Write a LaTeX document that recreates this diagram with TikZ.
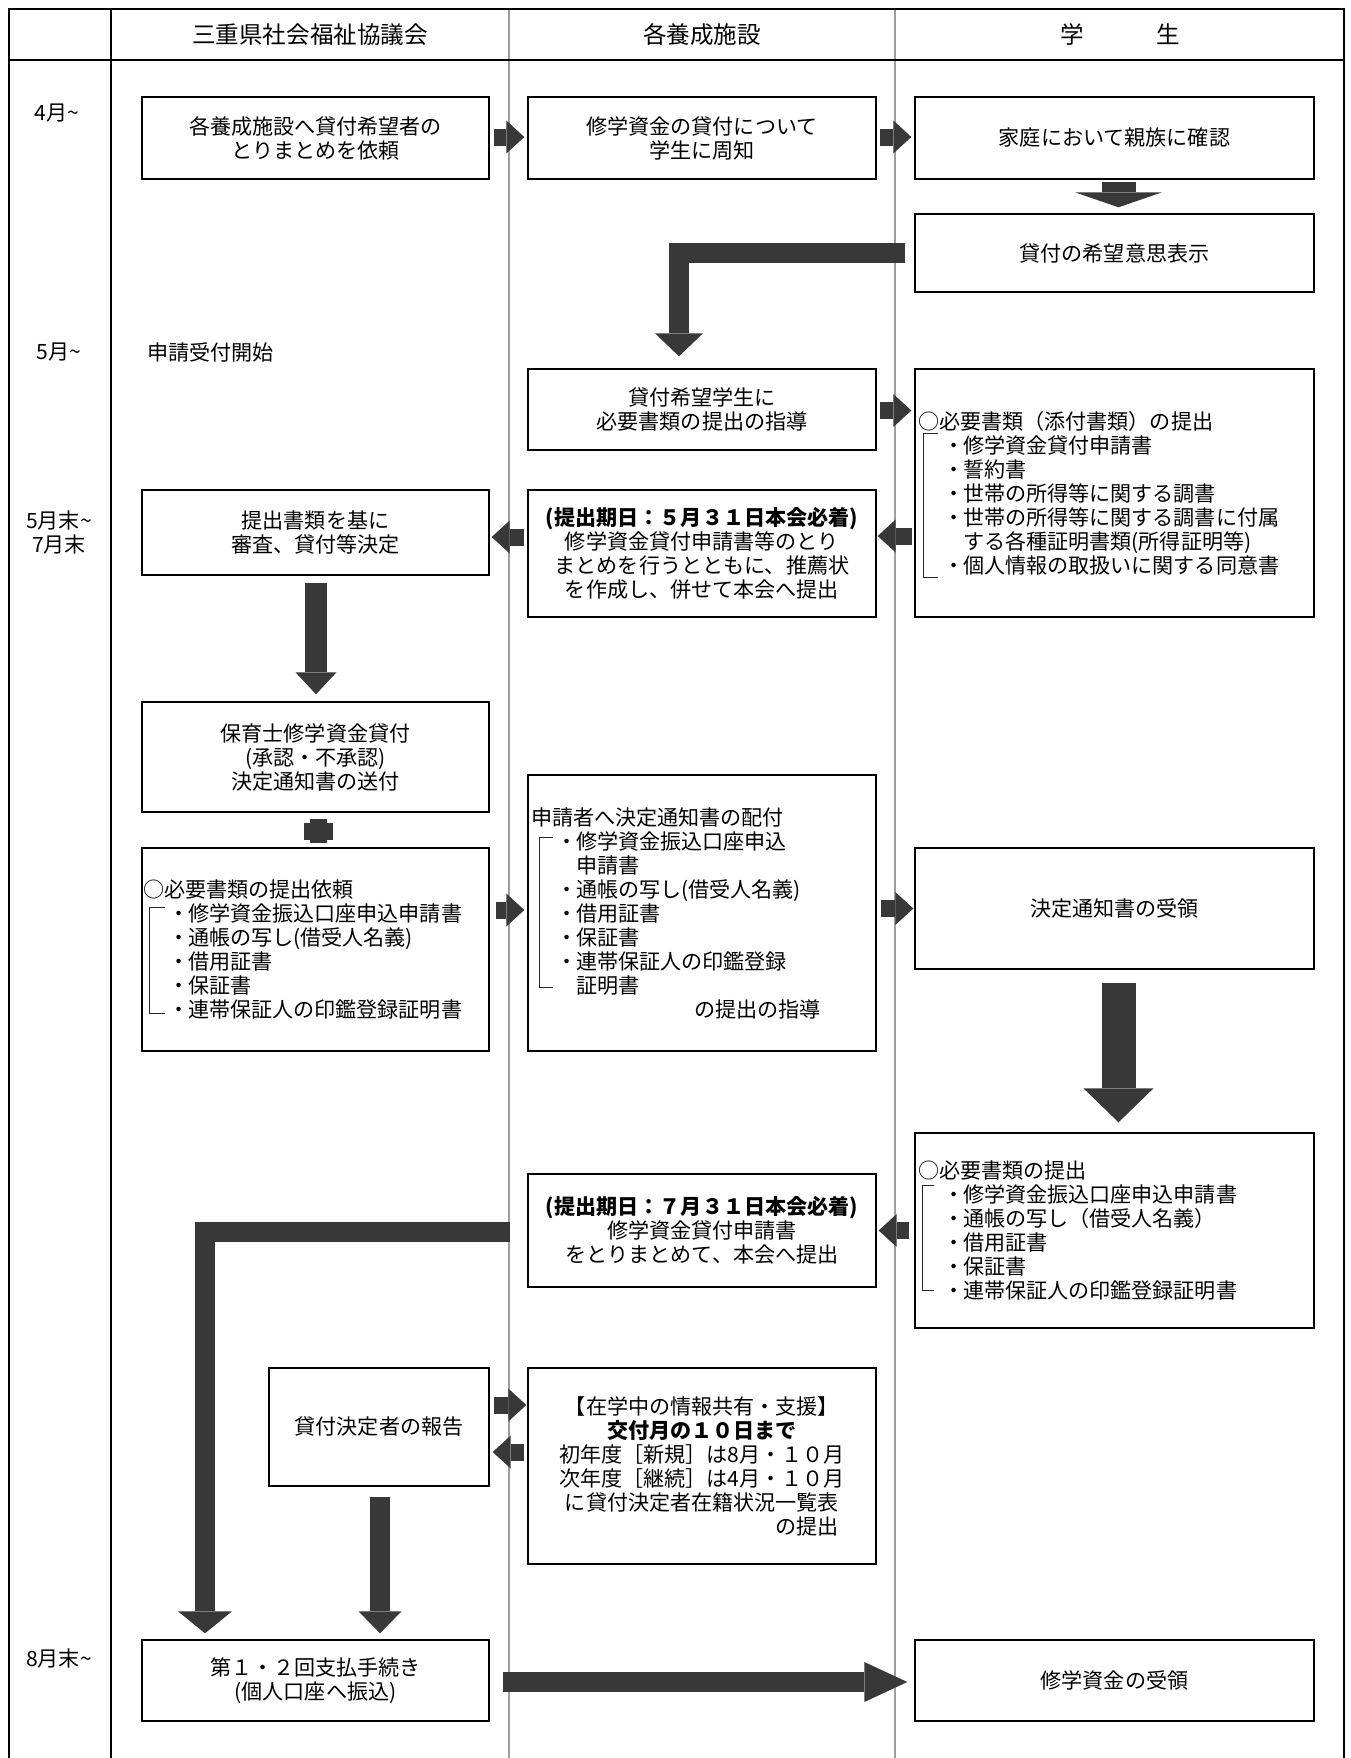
\documentclass[tikz,border=0pt]{standalone}
\usepackage{fontspec}
\setmainfont{Noto Sans CJK JP}
\usetikzlibrary{arrows.meta,calc}
\definecolor{arrowc}{gray}{0.22}
\definecolor{divc}{gray}{0.62}
\newcommand{\itm}{\hspace*{0.72cm}\makebox[0pt][c]{・}\hspace*{0.18cm}}
\newcommand{\cnt}{\hspace*{0.9cm}}
\begin{document}
\begin{tikzpicture}[x=0.02cm, y=-0.02cm,
  every node/.style={font=\fontsize{12pt}{13.66pt}\selectfont, inner sep=0pt},
  box/.style n args={2}{draw, line width=0.8pt, align=center, minimum width=#1, minimum height=#2},
  lbox/.style n args={2}{draw, line width=0.8pt, align=left, text width=#1, minimum height=#2, inner xsep=0.06cm},
  hdr/.style={font=\fontsize{13.4pt}{16pt}\selectfont},
  fat/.style n args={3}{draw=arrowc, line width=#1, -{Triangle[length=#2, width=#3, line width=0pt]}},
  harrow/.style={fat={0.34cm}{0.36cm}{0.66cm}},
  brk/.style={draw=black!85, line width=0.5pt}
]
\useasboundingbox (0,0) rectangle (1350,1758);
% frame and columns
\draw[divc, line width=0.6pt] (509,9) -- (509,1758);
\draw[divc, line width=0.6pt] (895,9) -- (895,1758);
\draw[line width=0.8pt] (9,1758) -- (9,9) -- (1344,9) -- (1344,1758);
\draw[line width=1.1pt] (9,60) -- (1344,60);
\draw[line width=0.8pt] (111,9) -- (111,1758);
% headers
\node[hdr] (h1) at (310,35) {三重県社会福祉協議会};
\node[hdr] (h2) at (702,35) {各養成施設};
\node[hdr] (h3) at (1120,35) {学\hspace{3.07em}生};
% months
\node (m1) at (57,113) {4月\textasciitilde};
\node (m2) at (59,352) {5月\textasciitilde};
\node[align=center] (m3) at (59,532.5) {5月末\textasciitilde\\7月末};
\node (m4) at (59,1658) {8月末\textasciitilde};
\node[anchor=west] (recv) at (147,352) {申請受付開始};
% boxes
\node[box={6.94cm}{1.64cm}] (A1) at (315.5,138) {各養成施設へ貸付希望者の\\とりまとめを依頼};
\node[box={6.96cm}{1.64cm}] (B1) at (702,138) {修学資金の貸付について\\学生に周知};
\node[box={7.98cm}{1.64cm}] (C1) at (1114.5,138) {家庭において親族に確認};
\node[box={7.98cm}{1.56cm}] (C2) at (1114.5,253) {貸付の希望意思表示};
\node[box={6.96cm}{1.62cm}] (B3) at (702,409.5) {貸付希望学生に\\必要書類の提出の指導};
\node[lbox={7.86cm}{4.96cm}] (C3) at (1114.5,493) {○必要書類（添付書類）の提出\\
\itm 修学資金貸付申請書\\
\itm 誓約書\\
\itm 世帯の所得等に関する調書\\
\itm 世帯の所得等に関する調書に付属\\
\cnt する各種証明書類(所得証明等)\\
\itm 個人情報の取扱いに関する同意書};
\node[box={6.94cm}{1.70cm}] (A4) at (315.5,532.5) {提出書類を基に\\審査、貸付等決定};
\node[box={6.96cm}{2.54cm}] (B4) at (702,553.5) {{\bfseries (提出期日：５月３１日本会必着)}\\修学資金貸付申請書等のとり\\まとめを行うとともに、推薦状\\を作成し、併せて本会へ提出};
\node[box={6.94cm}{2.2cm}] (A5) at (315.5,757) {保育士修学資金貸付\\(承認・不承認)\\決定通知書の送付};
\node[lbox={6.9cm}{4.06cm}, inner xsep=0.02cm] (A6) at (315.5,949.5) {○必要書類の提出依頼\\
\itm 修学資金振込口座申込申請書\\
\itm 通帳の写し(借受人名義)\\
\itm 借用証書\\
\itm 保証書\\
\itm 連帯保証人の印鑑登録証明書};
\node[lbox={6.84cm}{5.52cm}] (B6) at (702,913) {申請者へ決定通知書の配付\\
\itm 修学資金振込口座申込\\
\cnt 申請書\\
\itm 通帳の写し(借受人名義)\\
\itm 借用証書\\
\itm 保証書\\
\itm 連帯保証人の印鑑登録\\
\cnt 証明書\\
\hspace*{3.26cm}の提出の指導};
\node[box={7.98cm}{2.42cm}] (C6) at (1114.5,908.5) {決定通知書の受領};
\node[lbox={7.86cm}{3.9cm}] (C7) at (1114.5,1230.5) {○必要書類の提出\\
\itm 修学資金振込口座申込申請書\\
\itm 通帳の写し（借受人名義）\\
\itm 借用証書\\
\itm 保証書\\
\itm 連帯保証人の印鑑登録証明書};
\node[box={6.96cm}{2.26cm}] (B7) at (702,1230.5) {{\bfseries (提出期日：７月３１日本会必着)}\\修学資金貸付申請書\\をとりまとめて、本会へ提出};
\node[box={4.4cm}{2.36cm}] (A8) at (379,1427) {貸付決定者の報告};
\node[box={6.96cm}{3.92cm}] (B8) at (702,1466) {【在学中の情報共有・支援】\\{\bfseries 交付月の１０日まで}\\初年度［新規］は8月・１０月\\次年度［継続］は4月・１０月\\に貸付決定者在籍状況一覧表\\\makebox[13em][r]{の提出}};
\node[box={6.94cm}{1.62cm}] (A9) at (315.5,1680.5) {第１・２回支払手続き\\(個人口座へ振込)};
\node[box={7.98cm}{1.62cm}] (C9) at (1114.5,1680.5) {修学資金の受領};
% brackets
\draw[brk] ($(C3.west)+(24,-60)$) -- ++(-15,0) -- ++(0,144) -- ++(15,0);
\draw[brk] ($(A6.west)+(24,-42.5)$) -- ++(-16,0) -- ++(0,106) -- ++(16,0);
\draw[brk] ($(B6.west)+(26,-76)$) -- ++(-14,0) -- ++(0,150) -- ++(14,0);
\draw[brk] ($(C7.west)+(20,-45.5)$) -- ++(-12,0) -- ++(0,105) -- ++(12,0);
% arrows
\draw[harrow] ($(A1.east)+(4,-1)$) -- ($(B1.west)+(-3,-1)$);
\draw[harrow] ($(B1.east)+(3,-1)$) -- ($(C1.west)+(-3,-1)$);
\draw[fat={0.68cm}{0.30cm}{1.74cm}] ($(C1.south)+(4,2)$) -- ($(C2.north)+(4,-6)$);
\draw[fat={0.4cm}{0.46cm}{0.96cm}, line join=miter] ($(C2.west)+(-9,0)$) -| ($(B3.north)+(-23,-12)$);
\draw[harrow] ($(B3.east)+(3,1)$) -- ($(B3.east -| C3.west)+(-3,1)$);
\draw[harrow] ($(B4.east -| C3.west)+(-2,-17.5)$) -- ($(B4.east)+(1,-17.5)$);
\draw[harrow] ($(A4.east -| B4.west)+(-3,4.5)$) -- ($(A4.east)+(2,4.5)$);
\draw[fat={0.44cm}{0.44cm}{0.82cm}] ($(A4.south)+(0.5,7)$) -- ($(A5.north)+(0.5,-7)$);
\draw[arrowc, line width=0.34cm] ($(A5.south)+(3,6)$) -- ($(A6.north)+(3,-4)$);
\draw[arrowc, line width=0.34cm] ($(A5.south)!0.5!(A6.north)+(-11.5,1.5)$) -- ++(29,0);
\draw[harrow] ($(A6.east |- B6.west)+(6,-3)$) -- ($(B6.west)+(-3,-3)$);
\draw[harrow] ($(B6.east |- C6.west)+(4,0)$) -- ($(C6.west)+(-1,0)$);
\draw[fat={0.68cm}{0.68cm}{1.40cm}] ($(C6.south)+(4,13)$) -- ($(C7.north)+(4,-10)$);
\draw[harrow] ($(B7.east -| C7.west)+(-5,0)$) -- ($(B7.east)+(2,0)$);
\draw[fat={0.4cm}{0.44cm}{1.08cm}, line join=miter] ($(B7.west)+(-17,1.5)$) -| ($(A9.north)+(-110.5,-6)$);
\draw[harrow] ($(A8.east)+(4,-22)$) -- ($(A8.east -| B8.west)+(-1,-22)$);
\draw[harrow] ($(A8.east -| B8.west)+(-3,25)$) -- ($(A8.east)+(3,25)$);
\draw[fat={0.4cm}{0.44cm}{0.86cm}] ($(A8.south)+(1,10)$) -- ($(A9.north -| A8.south)+(1,-6)$);
\draw[fat={0.4cm}{0.86cm}{0.80cm}] ($(A9.east)+(13,1.5)$) -- ($(C9.west)+(-7,1.5)$);
\end{tikzpicture}
\end{document}
